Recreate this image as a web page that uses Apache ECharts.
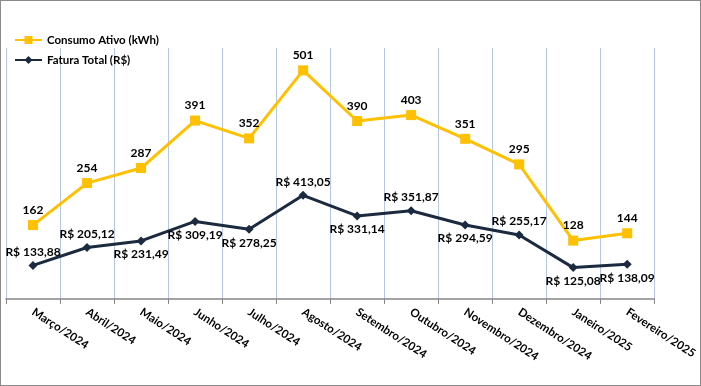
<!DOCTYPE html>
<html><head><meta charset="utf-8">
<script src="https://cdn.jsdelivr.net/npm/echarts@6/dist/echarts.min.js"></script>
<style>html,body{margin:0;padding:0;background:#fff}#c{width:701px;height:386px;box-sizing:border-box;border:1px solid #8a8a8a}</style>
</head><body><div id="c"></div>
<script>
const categories = ['Março/2024','Abril/2024','Maio/2024','Junho/2024','Julho/2024','Agosto/2024','Setembro/2024','Outubro/2024','Novembro/2024','Dezembro/2024','Janeiro/2025','Fevereiro/2025'];
const consumo = [162, 254, 287, 391, 352, 501, 390, 403, 351, 295, 128, 144];
const fatura = [133.88, 205.12, 231.49, 309.19, 278.25, 413.05, 331.14, 351.87, 294.59, 255.17, 125.08, 138.09];
const faturaLabelPos = ['top','top','bottom','bottom','bottom','top','bottom','top','bottom','top','bottom','bottom'];

const font = 'Lato, Open Sans, sans-serif';
const chart = echarts.init(document.getElementById('c'));
function brl(v){return 'R$ ' + v.toFixed(2).replace('.', ',');}
chart.setOption({
  animation:false,
  textStyle:{fontFamily:font},
  legend:{orient:'vertical',left:8,top:28,itemGap:8,itemWidth:27,itemHeight:10,
    textStyle:{fontFamily:font,fontWeight:'bold',fontSize:11.5,color:'#000'},
    data:['Consumo Ativo (kWh)','Fatura Total (R$)']},
  grid:{left:5,right:45,top:47,bottom:86,containLabel:false},
  xAxis:{type:'category',data:categories,boundaryGap:true,
    axisLine:{lineStyle:{color:'#868686',width:1.5}},
    axisTick:{show:true,length:5,lineStyle:{color:'#868686'}},
    splitLine:{show:true,lineStyle:{color:'#b4c7e7',width:1}},
    axisLabel:{rotate:-33,fontFamily:font,fontWeight:'bold',fontSize:11.5,color:'#000',margin:12,interval:0}},
  yAxis:[
    {type:'value',min:0,max:550,show:false,splitLine:{show:false}},
    {type:'value',min:0,max:1000,show:false,splitLine:{show:false}}
  ],
  series:[
    {name:'Consumo Ativo (kWh)',type:'line',yAxisIndex:0,data:consumo,
     symbol:'rect',symbolSize:10,
     lineStyle:{color:'#ffc000',width:3},itemStyle:{color:'#ffc000'},
     label:{show:true,position:'top',distance:4,fontFamily:font,fontWeight:'bold',fontSize:12,color:'#000'}},
    {name:'Fatura Total (R$)',type:'line',yAxisIndex:1,
     data:fatura.map((v,i)=>({value:v,label:{position:faturaLabelPos[i]}})),
     symbol:'diamond',symbolSize:9,
     lineStyle:{color:'#1b2a3f',width:3},itemStyle:{color:'#1b2a3f'},
     label:{show:true,distance:3,fontFamily:font,fontWeight:'bold',fontSize:12,color:'#000',formatter:p=>brl(p.value)}}
  ]
});
</script></body></html>
